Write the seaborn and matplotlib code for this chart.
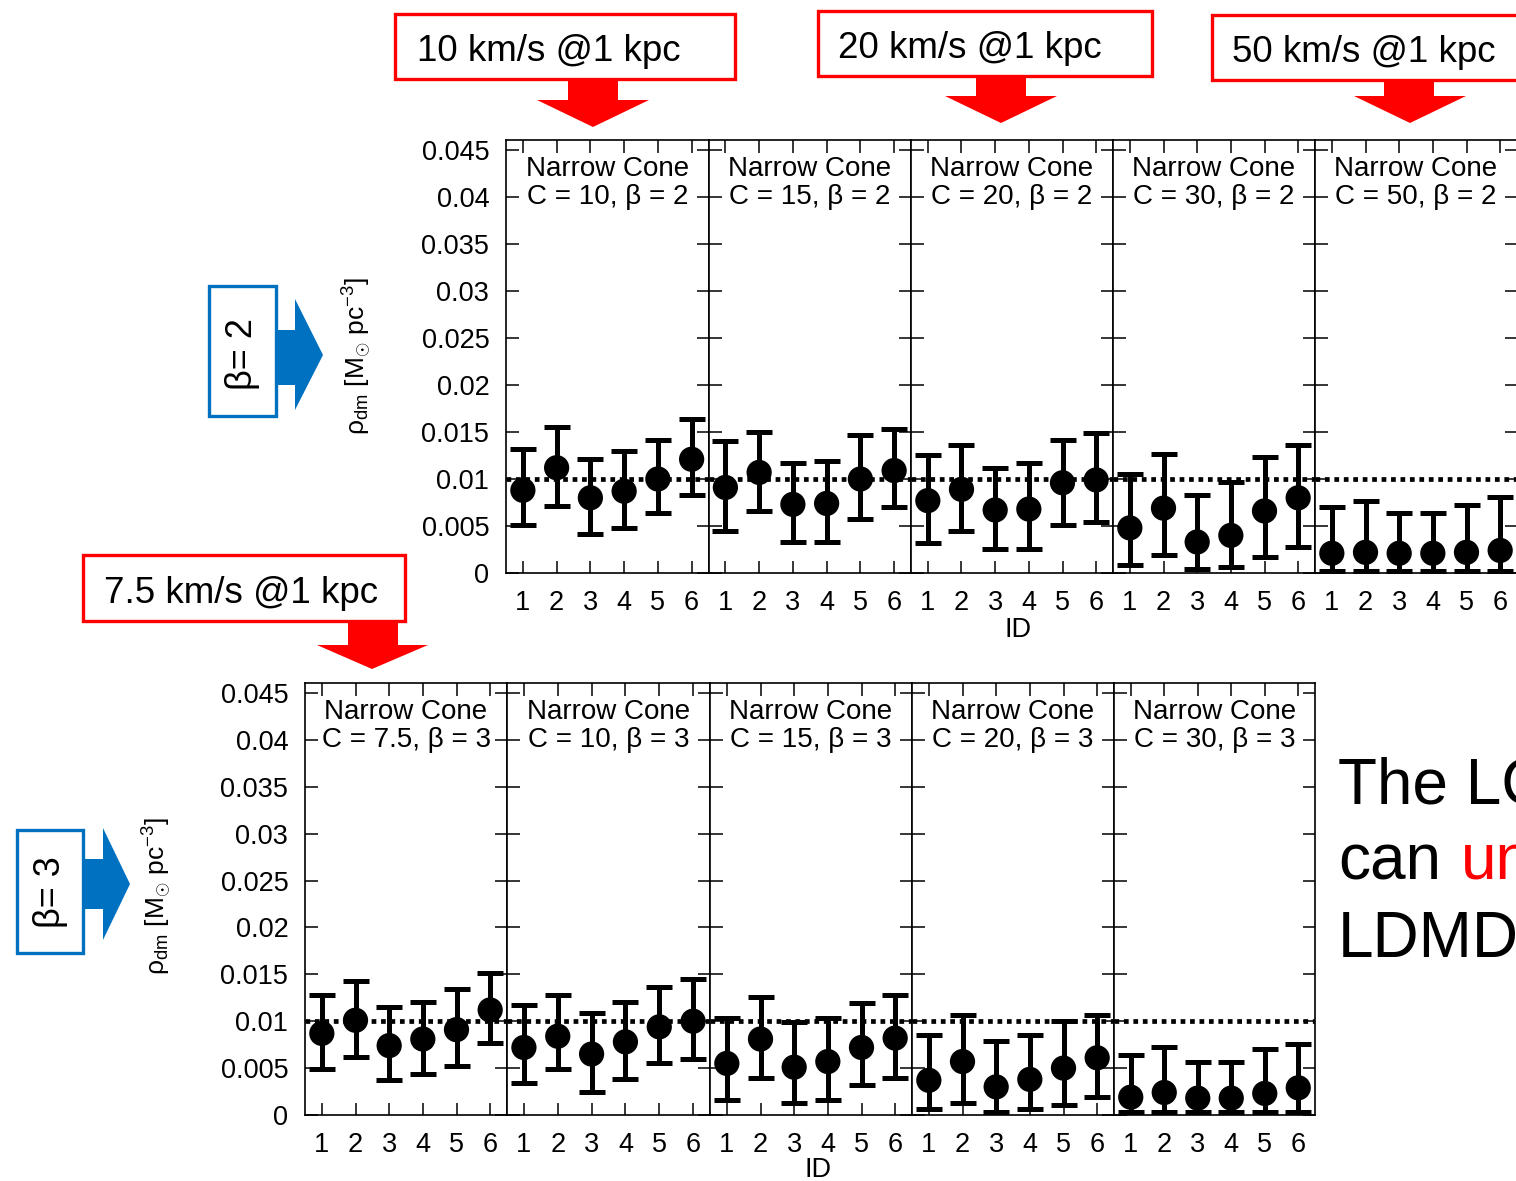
import numpy as np
import pandas as pd
import matplotlib
matplotlib.use("Agg")
import matplotlib.pyplot as plt
from matplotlib.patches import Rectangle, Polygon
import seaborn as sns

# ---- data -------------------------------------------------------------
ids = [1, 2, 3, 4, 5, 6]

# beta = 2 row (concentration of the narrow cone)
conc_b2 = ["10", "15", "20", "30", "50"]
rho_b2 = [
    [0.0088, 0.0112, 0.0080, 0.0087, 0.0100, 0.0121],
    [0.0091, 0.0107, 0.0073, 0.0074, 0.0100, 0.0109],
    [0.0077, 0.0089, 0.0067, 0.0068, 0.0096, 0.0099],
    [0.0048, 0.0069, 0.0033, 0.0040, 0.0066, 0.0080],
    [0.0021, 0.0022, 0.0021, 0.0021, 0.0022, 0.0024],
]
hi_b2 = [
    [0.0132, 0.0155, 0.0121, 0.0130, 0.0142, 0.0164],
    [0.0140, 0.0150, 0.0117, 0.0119, 0.0147, 0.0153],
    [0.0126, 0.0136, 0.0112, 0.0117, 0.0142, 0.0149],
    [0.0105, 0.0127, 0.0083, 0.0097, 0.0123, 0.0136],
    [0.0070, 0.0077, 0.0064, 0.0064, 0.0072, 0.0081],
]
lo_b2 = [
    [0.0051, 0.0071, 0.0042, 0.0048, 0.0064, 0.0083],
    [0.0045, 0.0066, 0.0033, 0.0033, 0.0057, 0.0070],
    [0.0032, 0.0045, 0.0025, 0.0025, 0.0051, 0.0054],
    [0.0008, 0.0019, 0.0004, 0.0006, 0.0017, 0.0028],
    [0.0002, 0.0002, 0.0002, 0.0002, 0.0002, 0.0002],
]

# beta = 3 row
conc_b3 = ["7.5", "10", "15", "20", "30"]
rho_b3 = [
    [0.0087, 0.0101, 0.0074, 0.0081, 0.0091, 0.0112],
    [0.0072, 0.0084, 0.0065, 0.0078, 0.0094, 0.0100],
    [0.0055, 0.0081, 0.0051, 0.0057, 0.0072, 0.0082],
    [0.0037, 0.0057, 0.0030, 0.0038, 0.0050, 0.0061],
    [0.0019, 0.0024, 0.0018, 0.0018, 0.0023, 0.0029],
]
hi_b3 = [
    [0.0128, 0.0143, 0.0115, 0.0121, 0.0134, 0.0151],
    [0.0117, 0.0128, 0.0109, 0.0121, 0.0136, 0.0145],
    [0.0103, 0.0126, 0.0099, 0.0103, 0.0119, 0.0128],
    [0.0085, 0.0107, 0.0079, 0.0085, 0.0100, 0.0107],
    [0.0064, 0.0072, 0.0057, 0.0057, 0.0070, 0.0076],
]
lo_b3 = [
    [0.0049, 0.0062, 0.0037, 0.0044, 0.0052, 0.0077],
    [0.0034, 0.0049, 0.0025, 0.0038, 0.0055, 0.0060],
    [0.0016, 0.0039, 0.0013, 0.0016, 0.0032, 0.0039],
    [0.0006, 0.0013, 0.0003, 0.0006, 0.0011, 0.0019],
    [0.0003, 0.0003, 0.0003, 0.0003, 0.0003, 0.0003],
]

true_rho = 0.01
yticks = [0, 0.005, 0.01, 0.015, 0.02, 0.025, 0.03, 0.035, 0.04, 0.045]

velocity_labels = ["10 km/s @1 kpc", "20 km/s @1 kpc", "50 km/s @1 kpc", "7.5 km/s @1 kpc"]
beta_labels = ["β= 2", "β= 3"]

# ---- style ------------------------------------------------------------
sns.set_theme(style="ticks")
plt.rcParams["font.family"] = ["Liberation Sans", "DejaVu Sans"]
plt.rcParams["mathtext.fontset"] = "custom"
plt.rcParams["mathtext.rm"] = "Liberation Sans"
plt.rcParams["mathtext.it"] = "Liberation Sans:italic"
plt.rcParams["mathtext.bf"] = "Liberation Sans:bold"
for key in ("text.color", "axes.labelcolor", "xtick.color", "ytick.color",
            "axes.edgecolor"):
    plt.rcParams[key] = "black"

W, H = 1516, 1181
fig = plt.figure(figsize=(W / 100, H / 100), dpi=100)
fig.patch.set_facecolor("white")

RED = "#FF0000"
BLUE = "#0070C0"
YMAX = 0.045 * 433 / 423


def px_rect(x0, y0, x1, y1):
    return [x0 / W, 1 - y1 / H, (x1 - x0) / W, (y1 - y0) / H]


def draw_row(edges, ytop, ybot, rho, lo, hi, conc, beta):
    for i in range(5):
        ax = fig.add_axes(px_rect(edges[i], ytop, edges[i + 1], ybot))
        df = pd.DataFrame({"ID": ids, "rho": rho[i], "lo": lo[i], "hi": hi[i]})
        ax.axhline(true_rho, color="black", lw=3.4, ls=(0, (1, 1)), zorder=1)
        ax.errorbar(df["ID"], df["rho"],
                    yerr=[df["rho"] - df["lo"], df["hi"] - df["rho"]],
                    fmt="none", ecolor="black", elinewidth=3.6,
                    capsize=9.7, capthick=3.6, zorder=2)
        sns.scatterplot(data=df, x="ID", y="rho", s=330, color="black",
                        edgecolor="none", ax=ax, zorder=3, legend=False)
        ax.set_xlim(0.5, 6.5)
        ax.set_ylim(0, YMAX)
        ax.set_xticks(ids)
        ax.set_yticks(yticks)
        ax.set_yticklabels([f"{v:g}" for v in yticks])
        ax.set_xlabel("")
        ax.set_ylabel("")
        ax.tick_params(direction="in", length=9, width=1.1, top=True,
                       right=True, labelsize=19.5, pad=12, colors="black")
        if i > 0:
            ax.tick_params(labelleft=False)
        for s in ax.spines.values():
            s.set_linewidth(1.2)
            s.set_color("black")
        ax.text(0.5, 0.9, f"Narrow Cone\nC = {conc[i]}, β = {beta}",
                transform=ax.transAxes, ha="center", va="center",
                fontsize=20, linespacing=1.12, color="black")


draw_row([506, 708.5, 911, 1113, 1315, 1517], 140, 573,
         rho_b2, lo_b2, hi_b2, conc_b2, 2)
draw_row([305, 507, 710, 912, 1114, 1315], 683, 1115,
         rho_b3, lo_b3, hi_b3, conc_b3, 3)

# ---- annotations in pixel coordinates ----------------------------------
ov = fig.add_axes([0, 0, 1, 1], zorder=-1)
ov.set_xlim(0, W)
ov.set_ylim(H, 0)
ov.axis("off")

ylabel = r"ρ$_{\mathrm{dm}}$ [M$_{\odot}$ pc$^{-3}$]"
ov.text(357, 356, ylabel, rotation=90, ha="center", va="center", fontsize=19)
ov.text(157, 896, ylabel, rotation=90, ha="center", va="center", fontsize=19)
ov.text(1018, 630, "ID", ha="center", va="center", fontsize=19.5)
ov.text(818, 1170, "ID", ha="center", va="center", fontsize=19.5)

# red velocity boxes with down arrows
red_boxes = [
    ((395, 14, 735, 79), (417, 61), (568, 618, 100, 537, 649, 593, 127)),
    ((818, 11, 1152, 76), (838, 58), (976, 1026, 96, 945, 1057, 1001, 123)),
    ((1212, 15, 1540, 80), (1232, 62), (1384, 1434, 96, 1354, 1466, 1410, 123)),
    ((83, 555, 405, 621), (104, 603), (348, 398, 645, 317, 428, 372, 669)),
]
for label, (box, tpos, arr) in zip(velocity_labels, red_boxes):
    x0, y0, x1, y1 = box
    ov.add_patch(Rectangle((x0, y0), x1 - x0, y1 - y0, fill=True,
                           facecolor="white", edgecolor=RED, lw=2.4))
    ov.text(tpos[0], tpos[1], label, ha="left", va="baseline",
            fontsize=26.5, color="black")
    sx0, sx1, neck, hx0, hx1, tx, ty = arr
    ov.add_patch(Polygon([(sx0, y1), (sx1, y1), (sx1, neck), (hx1, neck),
                          (tx, ty), (hx0, neck), (sx0, neck)],
                         closed=True, facecolor=RED, edgecolor="none"))

# blue beta boxes with right arrows
blue_boxes = [
    ((209, 286, 276, 416), (243, 354), (330, 385, 295, 299, 410, 323, 355)),
    ((17, 830, 83, 953), (50, 892), (859, 909, 103, 828, 940, 130, 884)),
]
for label, (box, tpos, arr) in zip(beta_labels, blue_boxes):
    x0, y0, x1, y1 = box
    ov.add_patch(Rectangle((x0, y0), x1 - x0, y1 - y0, facecolor="white",
                           edgecolor=BLUE, lw=2.4))
    ov.text(tpos[0], tpos[1], label, rotation=90, ha="center", va="center",
            fontsize=26, color="black")
    sy0, sy1, neck, hy0, hy1, tx, ty = arr
    ov.add_patch(Polygon([(x1, sy0), (neck, sy0), (neck, hy0), (tx, ty),
                          (neck, hy1), (neck, sy1), (x1, sy1)],
                         closed=True, facecolor=BLUE, edgecolor="none"))

# conclusion text running off the right edge
ov.text(1338, 803, "The LC", fontsize=46, va="baseline", ha="left")
ov.text(1338, 880, "can", fontsize=46, va="baseline", ha="left")
ov.text(1461, 880, "un", fontsize=46, va="baseline", ha="left", color=RED)
ov.text(1338, 957, "LDMD", fontsize=46, va="baseline", ha="left")

fig.savefig("out.png", dpi=100, facecolor="white")
